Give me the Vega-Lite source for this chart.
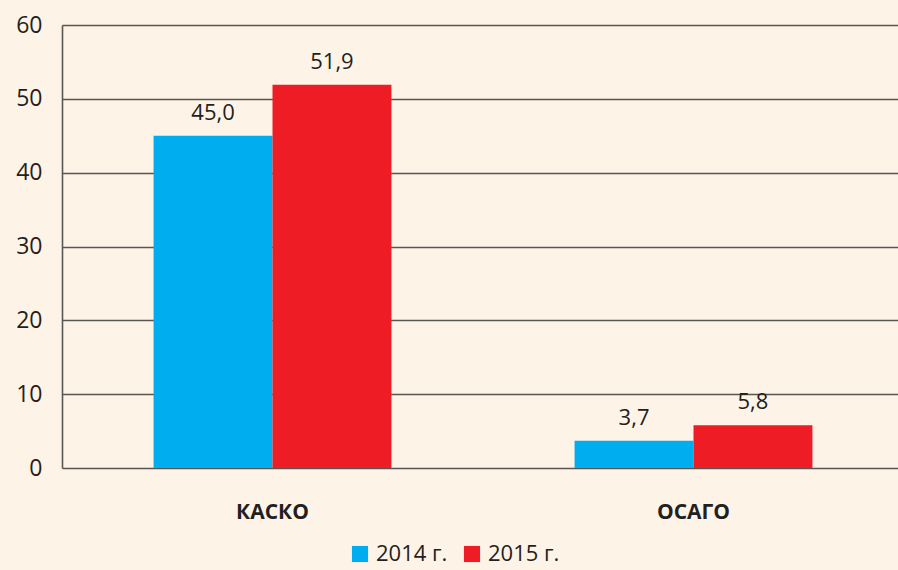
{
  "$schema": "https://vega.github.io/schema/vega-lite/v6.json",
  "width": 842,
  "height": 443,
  "autosize": {"type": "none"},
  "padding": {"left": 62, "top": 25, "right": 0, "bottom": 102},
  "background": "#FDF3E7",
  "data": {"values": [
    {"category": "КАСКО", "year": "2014 г.", "value": 45.0},
    {"category": "КАСКО", "year": "2015 г.", "value": 51.9},
    {"category": "ОСАГО", "year": "2014 г.", "value": 3.7},
    {"category": "ОСАГО", "year": "2015 г.", "value": 5.8}
  ]},
  "encoding": {
    "x": {"field": "category", "type": "nominal", "sort": null,
      "scale": {"paddingInner": 0, "paddingOuter": 0},
      "axis": {"title": null, "domain": false, "ticks": false, "labelAngle": 0,
        "labelFont": "Open Sans", "labelFontWeight": "bold", "labelFontSize": 21,
        "labelColor": "#231F20", "labelPadding": 33}},
    "xOffset": {"field": "year", "type": "nominal",
      "scale": {"paddingInner": 0, "paddingOuter": 0.77}},
    "y": {"field": "value", "type": "quantitative",
      "scale": {"domain": [0, 60]},
      "axis": {"title": null, "values": [0, 10, 20, 30, 40, 50, 60],
        "labelOverlap": false,
        "grid": true, "gridColor": "#5a5656", "gridWidth": 1.6,
        "domain": true, "domainColor": "#5a5656", "domainWidth": 1.6,
        "ticks": false, "labelFont": "Open Sans", "labelFontSize": 23,
        "labelColor": "#231F20", "labelPadding": 20}}
  },
  "layer": [
    {
      "mark": {"type": "bar"},
      "encoding": {
        "color": {"field": "year", "type": "nominal",
          "scale": {"range": ["#00AEEF", "#EE1C25"]},
          "legend": {"title": null, "orient": "none", "direction": "horizontal",
            "legendX": 287, "legendY": 518, "symbolType": "square", "symbolSize": 260,
            "symbolStrokeWidth": 0, "labelFont": "Open Sans", "labelFontSize": 22,
            "labelColor": "#231F20", "columnPadding": 13, "labelOffset": 5}}
      }
    },
    {
      "mark": {"type": "text", "baseline": "bottom", "dy": -11, "font": "Open Sans", "fontSize": 22, "color": "#231F20"},
      "encoding": {"text": {"field": "value", "type": "quantitative", "format": ".1f"}}
    }
  ],
  "config": {
    "view": {"stroke": null},
    "locale": {"number": {"decimal": ",", "thousands": " ", "grouping": [3], "currency": ["", ""]}}
  }
}
